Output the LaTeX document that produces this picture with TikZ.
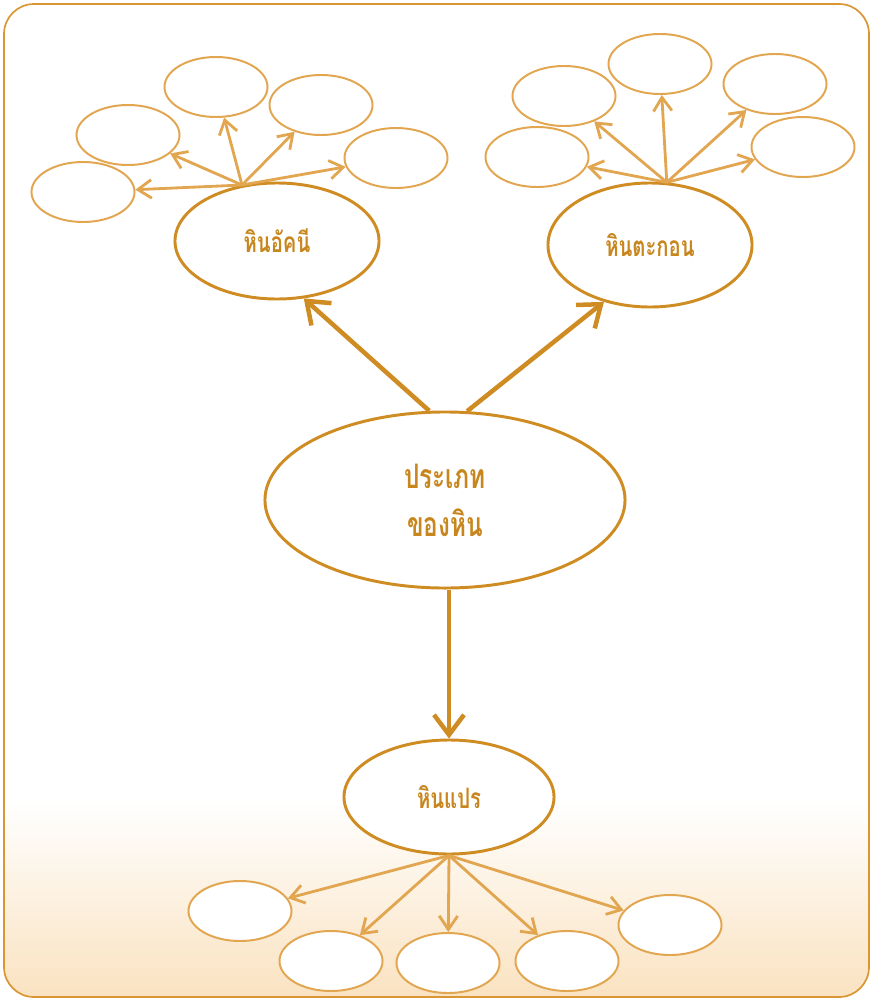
\documentclass[tikz,border=0pt]{standalone}
\usepackage{fontspec}
\newfontfamily\thaifont[Script=Thai,FakeStretch=0.72]{Loma}
\usetikzlibrary{shapes.geometric,arrows.meta}
\definecolor{rockdark}{RGB}{207,140,35}
\definecolor{rocklight}{RGB}{226,165,80}
\definecolor{rocktext}{RGB}{200,135,30}
\definecolor{rockpeach}{RGB}{250,226,192}
\definecolor{rockframe}{RGB}{218,150,50}

\begin{document}
\begin{tikzpicture}[x=0.025cm,y=-0.025cm,
		big/.style={ellipse,draw=rockdark,line width=2.1pt,fill=white,inner sep=0pt,text=rocktext,font=\thaifont\bfseries\fontsize{20}{24}\selectfont},
		small/.style={ellipse,draw=rocklight,line width=1.4pt,fill=white,inner sep=0pt,minimum width=2.575cm,minimum height=1.5cm},
		bigarr/.style={draw=rockdark,line width=3.2pt,-{Straight Barb[length=0.5cm,width=0.75cm,line width=3.2pt]}},
		arr/.style={draw=rocklight,line width=2pt,-{Straight Barb[length=0.34cm,width=0.46cm,line width=2pt]}}]
					% Page and frame
					\useasboundingbox (0,0) rectangle (873,1000);
					\begin{scope}
						\clip[rounded corners=0.75cm] (4,4) rectangle (869,997);
						\shade[top color=white,bottom color=rockpeach] (0,800) rectangle (873,1000);
					\end{scope}
					\draw[rockframe,line width=1.2pt,rounded corners=0.75cm] (4,4) rectangle (869,997);
					
					% Main node and the three kinds
					\node[big,minimum width=9cm,minimum height=4.4cm,align=center,font=\thaifont\bfseries\fontsize{24}{34}\selectfont] (main) at (445,500) {ประเภท\\ของหิน};
					\node[big,minimum width=5.1cm,minimum height=2.9cm] (igneous) at (277,241) {หินอัคนี};
					\node[big,minimum width=5.1cm,minimum height=3.1cm] (sediment) at (650,245) {หินตะกอน};
					\node[big,minimum width=5.25cm,minimum height=2.85cm] (meta) at (449,797) {หินแปร};
					
					% Arrows from the main node
					\draw[bigarr] (main.100) -- (igneous.-65);
					\draw[bigarr] (main.76) -- (sediment.-129);
					\draw[bigarr] (meta.north |- main.south) -- (meta.north);
					
					% Empty boxes round each kind
					\foreach \n/\x/\y in {i1/83/192,i2/128/135,i3/216/87,i4/321/105,i5/396/158,
						s1/537/157,s2/564/96,s3/660/64,s4/775/84,s5/803/147,
						m1/240/911,m2/331/961,m3/448/963,m4/567/961,m5/670/925}
						\node[small] (\n) at (\x,\y) {};
					
					% Small arrows
					\coordinate (isrc) at (igneous.122);
					\coordinate (ssrc) at (sediment.75);
					\coordinate (msrc) at (meta.south);
					\foreach \n in {1,...,5} {
						\draw[arr] (isrc) -- (i\n);
						\draw[arr] (ssrc) -- (s\n);
						\draw[arr] (msrc) -- (m\n);
					}
				\end{tikzpicture}
\end{document}
